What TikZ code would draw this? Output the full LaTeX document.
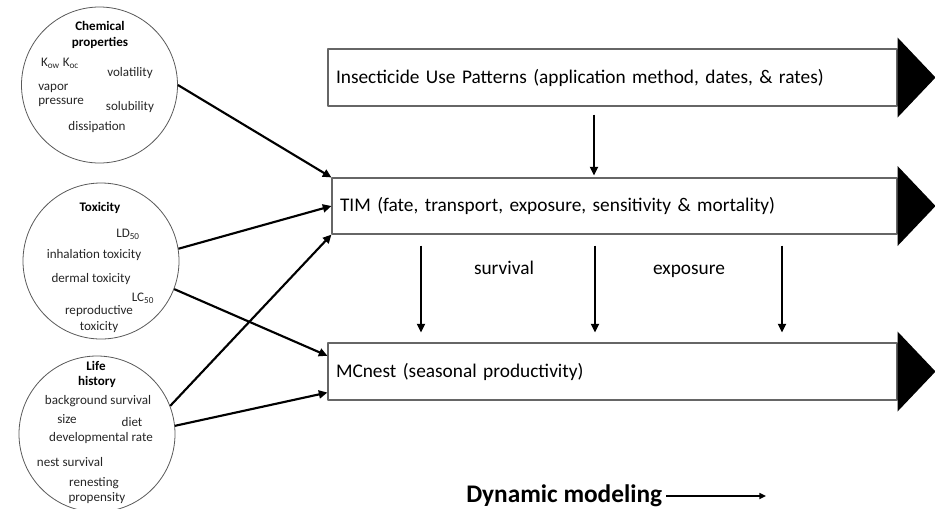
\documentclass[tikz,border=0pt]{standalone}
\usepackage{fontspec}
\setmainfont{Carlito}
\usetikzlibrary{arrows.meta,calc}

\begin{document}
\begin{tikzpicture}[x=0.75pt, y=-0.75pt, line join=round, >={Triangle[length=6.5pt,width=6pt]},
	bubble/.style={circle, draw=black!65, line width=0.6pt, minimum size=117pt, inner sep=0pt},
	intext/.style={font=\fontsize{9.8}{11}\selectfont, text=black!85, inner sep=0pt},
	inhead/.style={font=\fontsize{9.8}{11}\selectfont\bfseries, inner sep=0pt},
	model/.style={draw=black!60, line width=0.8pt, fill=white, minimum height=42.75pt, align=left, inner xsep=6pt, font=\fontsize{14.5}{17}\selectfont},
	flow/.style={->, line width=1.6pt}]
	\useasboundingbox (0,0) rectangle (935,508);
	\clip (0,0) rectangle (935,508);
	\node[bubble] (chem) at (99.5,85) {};
	\node[bubble] (tox) at (101,261) {};
	\node[bubble] (life) at (97,434) {};
	\node[inhead] (chemA) at (100,26) {Chemical};
	\node[inhead] (chemB) at (100,43) {properties};
	\node[intext] (kow) at (60,63) {K\textsubscript{ow} K\textsubscript{oc}};
	\node[intext] (vola) at (130,73) {volatility};
	\node[intext, anchor=west] (vapA) at (38,88) {vapor};
	\node[intext, anchor=west] (vapB) at (38,102) {pressure};
	\node[intext] (solu) at (130,107) {solubility};
	\node[intext] (diss) at (97,127) {dissipation};
	\node[inhead] (toxA) at (100,208) {Toxicity};
	\node[intext] (ld) at (128,234) {LD\textsubscript{50}};
	\node[intext] (inha) at (94,255) {inhalation toxicity};
	\node[intext] (derm) at (91,279) {dermal toxicity};
	\node[intext] (lc) at (143,298) {LC\textsubscript{50}};
	\node[intext] (reprA) at (99,311) {reproductive};
	\node[intext] (reprB) at (99,327) {toxicity};
	\node[inhead] (lifeA) at (96,366) {Life};
	\node[inhead] (lifeB) at (97,382) {history};
	\node[intext] (bgs) at (98,401) {background survival};
	\node[intext] (size) at (67,419) {size};
	\node[intext] (diet) at (132,422) {diet};
	\node[intext] (devr) at (101,438) {developmental rate};
	\node[intext] (nest) at (70,462) {nest survival};
	\node[intext] (renA) at (94,483) {renesting};
	\node[intext] (renB) at (97,498) {propensity};
	\node[model, text width=414.75pt] (use) at (612.5,77.5) {Insecticide Use Patterns (application method, dates, \& rates)};
	\node[model, text width=411.75pt, minimum height=42pt] (tim) at (614.5,206) {TIM (fate, transport, exposure, sensitivity \& mortality)};
	\node[model, text width=414.75pt] (mcnest) at (612.5,371.5) {MCnest (seasonal productivity)};
	\foreach \b in {use,tim,mcnest}
		\fill (\b.east) ++(0,-40) -- ++(38,40) -- ++(-38,40) -- cycle;
	\draw[flow] (chem.east) -- (tim.north west);
	\draw[flow] (tox.9) -- (tim.west);
	\draw[flow] (tox.-21) -- ([yshift=-10pt]mcnest.north west);
	\draw[flow] (life.21) -- (tim.south west);
	\draw[flow] (life.6) -- ([yshift=6pt]mcnest.south west);
	\draw[flow] ($(use.south -| 594,0)+(0,8)$) -- ($(tim.north -| 594,0)+(0,-2)$);
	\foreach \ax in {421,595,782}
		\draw[flow] ($(tim.south -| \ax,0)+(0,11)$) -- ($(mcnest.north -| \ax,0)+(0,-10)$);
	\node[font=\fontsize{14.5}{17}\selectfont, anchor=base] (surv) at (504,274) {survival};
	\node[font=\fontsize{14.5}{17}\selectfont, anchor=base] (expo) at (689,274) {exposure};
	\node[font=\fontsize{19}{22}\selectfont\bfseries, anchor=west, inner sep=0pt] (dyn) at (466,496) {Dynamic modeling};
	\coordinate (dynend) at (766,500);
	\draw[-{Triangle[length=5pt,width=4.5pt]}, line width=1.2pt] ([xshift=3pt]dyn.east) -- (dyn.east -| dynend);
\end{tikzpicture}
\end{document}
